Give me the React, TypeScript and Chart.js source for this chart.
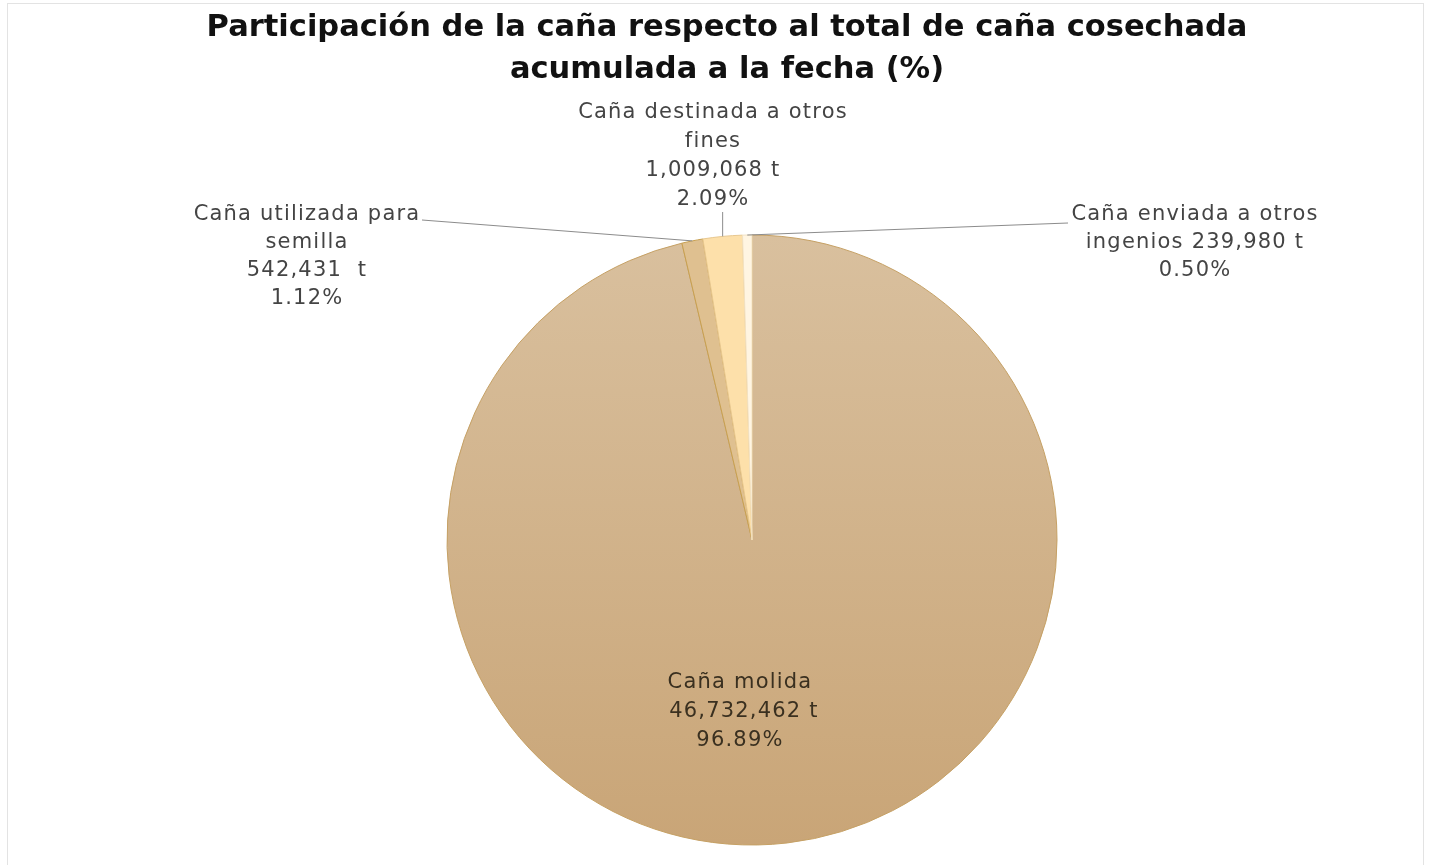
import React, { useEffect, useRef } from "react";
import { Chart, registerables } from "chart.js";

Chart.register(...registerables);

const titleLines = [
  "Participación de la caña respecto al total de caña cosechada",
  "acumulada a la fecha (%)",
];
const categories = [
  "Caña molida",
  "Caña utilizada para semilla",
  "Caña destinada a otros fines",
  "Caña enviada a otros ingenios",
];
const tonnes = [46732462, 542431, 1009068, 239980];
const percentLabels = ["96.89%", "1.12%", "2.09%", "0.50%"];
const labelLines = [
  ["Caña molida", " 46,732,462 t", percentLabels[0]],
  ["Caña utilizada para", "semilla", "542,431  t", percentLabels[1]],
  ["Caña destinada a otros", "fines", "1,009,068 t", percentLabels[2]],
  ["Caña enviada a otros", "ingenios 239,980 t", percentLabels[3]],
];
const sliceColors = ["#d2b48c", "#dfc090", "#fde0aa", "#fff5e2"];

const FONT = "'DejaVu Sans', 'Open Sans', sans-serif";

const overlayPlugin = {
  id: "overlay",
  beforeDraw(chart: any) {
    const ctx = chart.ctx;
    ctx.save();
    ctx.fillStyle = "#ffffff";
    ctx.fillRect(0, 0, chart.width, chart.height);
    ctx.strokeStyle = "#e3e3e3";
    ctx.lineWidth = 1;
    ctx.strokeRect(7.5, 3.5, 1416, 880);
    ctx.restore();
  },
  afterDraw(chart: any) {
    const ctx = chart.ctx;
    const meta = chart.getDatasetMeta(0);
    ctx.save();
    // title
    ctx.fillStyle = "#111111";
    ctx.font = `bold 30.5px ${FONT}`;
    ctx.textAlign = "center";
    ctx.textBaseline = "middle";
    ctx.fillText(titleLines[0], 727, 28);
    ctx.fillText(titleLines[1], 727, 70);

    const arcs = meta.data;
    const anchor = (i: number, extra: number) => {
      const a = arcs[i];
      const mid = (a.startAngle + a.endAngle) / 2;
      const r = a.outerRadius + extra;
      return { x: a.x + Math.cos(mid) * r, y: a.y + Math.sin(mid) * r };
    };

    // leader lines
    ctx.strokeStyle = "#8c8c8c";
    ctx.lineWidth = 1;
    const p1 = anchor(1, 0);
    ctx.beginPath();
    ctx.moveTo(422, 220);
    ctx.lineTo(p1.x, p1.y);
    ctx.stroke();
    const p2 = anchor(2, 0);
    ctx.beginPath();
    ctx.moveTo(p2.x, 212);
    ctx.lineTo(p2.x, p2.y);
    ctx.stroke();
    const p3 = anchor(3, 0);
    ctx.beginPath();
    ctx.moveTo(1068, 223);
    ctx.lineTo(p3.x, p3.y);
    ctx.stroke();

    // labels
    ctx.font = `21px ${FONT}`;
    (ctx as any).letterSpacing = "1.2px";
    const pos = [
      { x: 740, y: 683, dy: 29 },
      { x: 307, y: 215, dy: 28 },
      { x: 713, y: 113, dy: 29 },
      { x: 1195, y: 215, dy: 28 },
    ];
    labelLines.forEach((lines, i) => {
      ctx.fillStyle = i === 0 ? "#3a3020" : "#444444";
      lines.forEach((t, j) => {
        ctx.fillText(t, pos[i].x, pos[i].y + j * pos[i].dy);
      });
    });
    (ctx as any).letterSpacing = "0px";
    ctx.restore();
  },
};

export default function App() {
  const ref = useRef<HTMLCanvasElement>(null);
  useEffect(() => {
    if (!ref.current) return;
    const chart = new Chart(ref.current, {
      type: "pie",
      data: {
        labels: categories,
        datasets: [
          {
            data: tonnes,
            backgroundColor: (c: any) => {
              const ch = c.chart;
              const area = ch.chartArea;
              if (!area) return sliceColors[c.dataIndex];
              if (c.dataIndex === 0) {
                const g = ch.ctx.createLinearGradient(0, area.top, 0, area.bottom);
                g.addColorStop(0, "#d9c09e");
                g.addColorStop(1, "#c9a577");
                return g;
              }
              return sliceColors[c.dataIndex];
            },
            borderColor: ["#c6a165", "#c8a050", "#e8c890", "#f3e2c2"],
            borderWidth: 1,
          },
        ],
      },
      options: {
        responsive: false,
        animation: false,
        radius: 305,
        layout: { padding: { left: 447, right: 376, top: 235, bottom: 20 } },
        plugins: {
          legend: { display: false },
          title: { display: false },
          tooltip: { enabled: false },
        },
      },
      plugins: [overlayPlugin],
    });
    return () => chart.destroy();
  }, []);
  return (
    <div style={{ position: "fixed", left: 0, top: 0, width: 1433, height: 865, background: "#fff" }}>
      <canvas ref={ref} width={1433} height={865} style={{ display: "block" }} />
    </div>
  );
}
